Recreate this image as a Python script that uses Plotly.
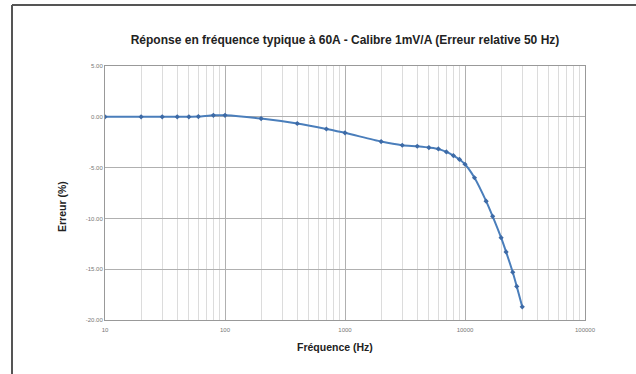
import plotly.graph_objects as go

# Fréquence (Hz) et erreur relative (%)
freq = [10, 20, 30, 40, 50, 60, 80, 100, 200, 400, 700, 1000, 2000, 3000, 4000,
        5000, 6000, 7000, 8000, 9000, 10000, 12000, 15000, 17000, 20000, 22000,
        25000, 27000, 30000]
erreur = [0.00, 0.00, 0.00, 0.00, 0.00, 0.02, 0.15, 0.15, -0.17, -0.66, -1.20, -1.58,
          -2.44, -2.80, -2.90, -3.03, -3.16, -3.46, -3.82, -4.20, -4.67, -6.00,
          -8.30, -9.80, -11.90, -13.30, -15.30, -16.70, -18.70]

x_ticks = [10, 100, 1000, 10000, 100000]
x_labels = ["10", "100", "1000", "10000", "100000"]
y_ticks = [5, 0, -5, -10, -15, -20]
y_labels = ["5.00", "0.00", "-5.00", "-10.00", "-15.00", "-20.00"]

fig = go.Figure()
fig.add_trace(go.Scatter(
    x=freq, y=erreur, mode="lines+markers",
    line=dict(color="#4a7ebb", width=2, shape="spline", smoothing=0.6),
    marker=dict(symbol="diamond", size=4, color="#3d6aa6"),
    showlegend=False,
))

# plot area: 105..585 px horizontally, 66..320 px vertically
fig.update_layout(
    width=636, height=374,
    margin=dict(l=105, r=51, t=66, b=54),
    paper_bgcolor="white", plot_bgcolor="white",
    font=dict(family="Liberation Sans", color="#333"),
    title=dict(
        text="<b>Réponse en fréquence typique à 60A - Calibre 1mV/A (Erreur relative 50 Hz)</b>",
        x=0.5, xref="paper", xanchor="center", y=1 - 40 / 374, yanchor="middle",
        font=dict(size=12, color="#222", family="Liberation Sans"),
    ),
    annotations=[
        dict(text="<b>Fréquence (Hz)</b>", xref="paper", yref="paper",
             x=(335 - 105) / 480, y=(320 - 347) / 254, showarrow=False,
             xanchor="center", yanchor="middle", font=dict(size=10.5, color="#222")),
        dict(text="<b>Erreur (%)</b>", xref="paper", yref="paper", textangle=-90,
             x=(62 - 105) / 480, y=(320 - 207) / 254, showarrow=False,
             xanchor="center", yanchor="middle", font=dict(size=10.5, color="#222")),
    ],
    shapes=[
        dict(type="line", xref="paper", yref="paper", x0=-93 / 480, x1=-93 / 480,
             y0=1 + 61 / 254, y1=-0.3, line=dict(color="#555", width=2)),
        dict(type="line", xref="paper", yref="paper", x0=-93 / 480, x1=1.2,
             y0=1 + 61 / 254, y1=1 + 61 / 254, line=dict(color="#555", width=2)),
    ],
)

fig.update_xaxes(
    type="log", range=[1, 5], tickvals=x_ticks, ticktext=x_labels,
    tickfont=dict(size=6, color="#777"), ticklabelstandoff=4,
    showgrid=True, gridcolor="#b0b0b0", gridwidth=1,
    minor=dict(dtick="D1", showgrid=True, gridcolor="#dcdcdc", gridwidth=1),
    showline=True, linecolor="#999", mirror=True, ticks="",
    zeroline=False,
)
fig.update_yaxes(
    range=[-20, 5], tickvals=y_ticks, ticktext=y_labels,
    tickfont=dict(size=6, color="#777"),
    showgrid=True, gridcolor="#b0b0b0", gridwidth=1,
    showline=True, linecolor="#999", mirror=True, ticks="",
    zeroline=False,
)

fig.write_html("out.html", config={"displayModeBar": False},
               post_script="document.body.style.margin='0';")
